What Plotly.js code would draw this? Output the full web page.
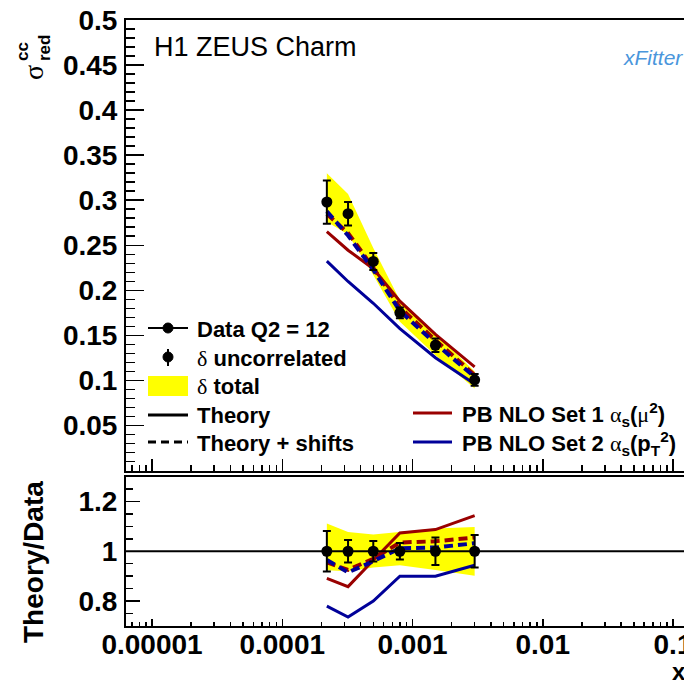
<!DOCTYPE html>
<html><head><meta charset="utf-8">
<script src="https://cdn.plot.ly/plotly-3.0.1.min.js"></script>
<style>html,body{margin:0;padding:0;overflow:hidden;background:#fff}#plot{width:720px;height:682px}</style>
</head><body><div id="plot"></div>
<script>
// ---------------- data ----------------
const xVals = [0.00022, 0.00032, 0.0005, 0.0008, 0.0015, 0.003];
const sigmaData = [0.298, 0.285, 0.232, 0.175, 0.139, 0.1006];
const errUncor = [0.024, 0.013, 0.0095, 0.006, 0.0076, 0.0065];
const totalHi = [0.330, 0.307, 0.247, 0.189, 0.152, 0.110];
const totalLo = [0.276, 0.262, 0.217, 0.165, 0.128, 0.091];
const set1Theory = [0.265, 0.2445, 0.224, 0.188, 0.151, 0.115];
const set2Theory = [0.2324, 0.2098, 0.1856, 0.1575, 0.1251, 0.096];
const set1Shift = [0.2846, 0.2636, 0.225, 0.181, 0.1446, 0.106];
const set2Shift = [0.2876, 0.2608, 0.2227, 0.177, 0.141, 0.1038];

const ratioData = [1, 1, 1, 1, 1, 1];
const ratioErr = [0.081, 0.045, 0.041, 0.033, 0.055, 0.065];
const ratioTotHi = [1.111, 1.077, 1.067, 1.077, 1.091, 1.097];
const ratioTotLo = [0.924, 0.920, 0.935, 0.944, 0.925, 0.902];
const ratioSet1 = [0.891, 0.858, 0.964, 1.073, 1.087, 1.143];
const ratioSet2 = [0.780, 0.736, 0.800, 0.900, 0.900, 0.944];
const ratioSet1Shift = [0.955, 0.925, 0.970, 1.035, 1.040, 1.055];
const ratioSet2Shift = [0.965, 0.915, 0.960, 1.012, 1.015, 1.032];

const xTickVals = [0.00001, 0.0001, 0.001, 0.01, 0.1];
const xTickText = ['0.00001', '0.0001', '0.001', '0.01', '0.1'];
const yTopTickVals = [0.05, 0.1, 0.15, 0.2, 0.25, 0.3, 0.35, 0.4, 0.45, 0.5];
const yTopTickText = ['0.05', '0.1', '0.15', '0.2', '0.25', '0.3', '0.35', '0.4', '0.45', '0.5'];
const yBotTickVals = [0.8, 1, 1.2];
const yBotTickText = ['0.8', '1', '1.2'];

// ---------------- styles ----------------
const RED = '#990000', BLUE = '#000099', YEL = '#ffff00';
const FONT = 'Liberation Sans, Arial, Helvetica, sans-serif';
const L = 126, R = 700, T = 20, B = 626;
const px = x => (x - L) / (R - L);
const py = y => (B - y) / (B - T);

function band(xa, ya, hi, lo) {
  return {x: xVals.concat(xVals.slice().reverse()), y: hi.concat(lo.slice().reverse()),
    xaxis: xa, yaxis: ya, type: 'scatter', mode: 'lines', fill: 'toself',
    fillcolor: YEL, line: {width: 0, color: YEL}, hoverinfo: 'skip'};
}
function curve(xa, ya, y, color, dash) {
  return {x: xVals, y: y, xaxis: xa, yaxis: ya, type: 'scatter', mode: 'lines',
    line: {color: color, width: dash ? 4 : 3, dash: dash ? '9px,5px' : 'solid'}};
}
function pts(xa, ya, y, err) {
  return {x: xVals, y: y, xaxis: xa, yaxis: ya, type: 'scatter', mode: 'markers',
    marker: {color: 'black', size: 11},
    error_y: {type: 'data', array: err, visible: true, color: 'black', thickness: 2, width: 4}};
}

const traces = [
  band('x', 'y', totalHi, totalLo),
  curve('x', 'y', set1Theory, RED, false),
  curve('x', 'y', set2Theory, BLUE, false),
  curve('x', 'y', set1Shift, RED, true),
  curve('x', 'y', set2Shift, BLUE, true),
  pts('x', 'y', sigmaData, errUncor),
  band('x2', 'y2', ratioTotHi, ratioTotLo),
  curve('x2', 'y2', ratioSet1, RED, false),
  curve('x2', 'y2', ratioSet2, BLUE, false),
  curve('x2', 'y2', ratioSet1Shift, RED, true),
  curve('x2', 'y2', ratioSet2Shift, BLUE, true),
  pts('x2', 'y2', ratioData, ratioErr)
];

const tickFont = {family: FONT, size: 28, color: 'black', weight: 'bold'};
const xRange = [-5 - 26 / 130.25, -5 + (R - 152) / 130.25];

const baseX = {
  type: 'log', range: xRange, showgrid: false, zeroline: false,
  showline: true, linecolor: 'black', linewidth: 2, mirror: true,
  tickmode: 'array', tickvals: xTickVals, ticktext: xTickText,
  ticks: 'inside', tickcolor: 'black', tickwidth: 1.5
};

const layout = {
  width: 720, height: 682, paper_bgcolor: 'white', plot_bgcolor: 'white',
  margin: {l: L, r: 720 - R, t: T, b: 682 - B},
  showlegend: false,
  xaxis: Object.assign({}, baseX, {anchor: 'y', matches: 'x2', showticklabels: false, ticklen: 12,
    minor: {ticks: 'inside', ticklen: 6, dtick: 'D1', tickcolor: 'black', tickwidth: 1.5}}),
  yaxis: {domain: [py(470.5), 1], range: [0, 0.5], showgrid: false, zeroline: false,
    showline: true, linecolor: 'black', linewidth: 2, mirror: true,
    tickmode: 'array', tickvals: yTopTickVals, ticktext: yTopTickText, tickfont: tickFont,
    ticks: 'inside', ticklen: 18, tickcolor: 'black', tickwidth: 1.5, ticklabelstandoff: 1,
    minor: {ticks: 'inside', ticklen: 9, dtick: 0.01, tick0: 0, tickcolor: 'black', tickwidth: 1.5}},
  xaxis2: Object.assign({}, baseX, {anchor: 'y2', tickfont: tickFont, ticklen: 7, ticklabelstandoff: -8,
    minor: {ticks: 'inside', ticklen: 4, dtick: 'D1', tickcolor: 'black', tickwidth: 1.5}}),
  yaxis2: {domain: [0, py(476.5)], range: [0.7, 1.3], showgrid: false, zeroline: false,
    showline: true, linecolor: 'black', linewidth: 2, mirror: true,
    tickmode: 'array', tickvals: yBotTickVals, ticktext: yBotTickText, tickfont: tickFont,
    ticks: 'inside', ticklen: 14, tickcolor: 'black', tickwidth: 1.5, ticklabelstandoff: 1,
    minor: {ticks: 'inside', ticklen: 7, dtick: 0.05, tick0: 0.7, tickcolor: 'black', tickwidth: 1.5}},
  shapes: [], annotations: []
};

// ratio = 1 reference line
layout.shapes.push({type: 'line', xref: 'x2 domain', x0: 0, x1: 1, yref: 'y2', y0: 1, y1: 1,
  line: {color: 'black', width: 2}});

// legend graphics (paper coords from pixels)
function hline(x0, x1, y, color, w, dash) {
  layout.shapes.push({type: 'line', xref: 'paper', yref: 'paper', x0: px(x0), x1: px(x1), y0: py(y), y1: py(y),
    line: {color: color, width: w, dash: dash || 'solid'}});
}
function dot(cx, cy, r) {
  layout.shapes.push({type: 'circle', xref: 'paper', yref: 'paper', x0: px(cx - r), x1: px(cx + r),
    y0: py(cy + r), y1: py(cy - r), fillcolor: 'black', line: {color: 'black', width: 1}});
}
hline(148, 188, 328, 'black', 2); dot(168, 328, 5);
layout.shapes.push({type: 'line', xref: 'paper', yref: 'paper', x0: px(168), x1: px(168), y0: py(349), y1: py(366),
  line: {color: 'black', width: 2}}); dot(168, 357, 5);
layout.shapes.push({type: 'rect', xref: 'paper', yref: 'paper', x0: px(148), x1: px(188), y0: py(396), y1: py(376),
  fillcolor: YEL, line: {width: 0}});
hline(148, 188, 415, 'black', 3);
hline(148, 188, 442, 'black', 3, '8px,5px');
hline(413, 452, 413, RED, 3);
hline(413, 452, 442, BLUE, 3);

function txt(x, y, text, size, opts) {
  layout.annotations.push(Object.assign({xref: 'paper', yref: 'paper', x: px(x), y: py(y), text: text,
    showarrow: false, xanchor: 'left', yanchor: 'middle',
    font: {family: FONT, size: size, color: 'black', weight: 'bold'}}, opts || {}));
}
const dl = '<span style="font-family:Liberation Serif,serif;font-weight:normal">δ</span>';
const al = '<span style="font-family:Liberation Serif,serif;font-weight:normal">α</span>';
const mu = '<span style="font-family:Liberation Serif,serif;font-weight:normal">μ</span>';
txt(195, 329, 'Data Q2 = 12', 22);
txt(195, 358, dl + ' uncorrelated', 22);
txt(195, 386, dl + ' total', 22);
txt(195, 415, 'Theory', 22);
txt(195, 443, 'Theory + shifts', 22);
txt(460, 414, 'PB NLO Set 1 ' + al + '<sub>s</sub>(' + mu + '<sup>2</sup>)', 22);
txt(460, 443, 'PB NLO Set 2 ' + al + '<sub>s</sub>(p<sub>T</sub><sup>2</sup>)', 22);

// header text
txt(152, 47, 'H1 ZEUS Charm', 27, {font: {family: FONT, size: 27, color: 'black', weight: 'normal'}});
txt(621, 57, 'xFitter', 21, {font: {family: FONT, size: 21, color: '#4a96dc', weight: 'normal', style: 'italic'}});

// axis titles
txt(33, 73, 'σ', 26, {xanchor: 'center', textangle: -90, font: {family: 'Liberation Serif, serif', size: 28, color: 'black'}});
txt(23, 52, 'cc', 17, {xanchor: 'center', textangle: -90});
txt(44, 48, 'red', 17, {xanchor: 'center', textangle: -90});
txt(33, 562, 'Theory/Data', 28, {xanchor: 'center', textangle: -90});
txt(679, 671, 'x', 24, {xanchor: 'center'});

Plotly.newPlot('plot', traces, layout, {displayModeBar: false, staticPlot: true});
</script>
</body></html>
